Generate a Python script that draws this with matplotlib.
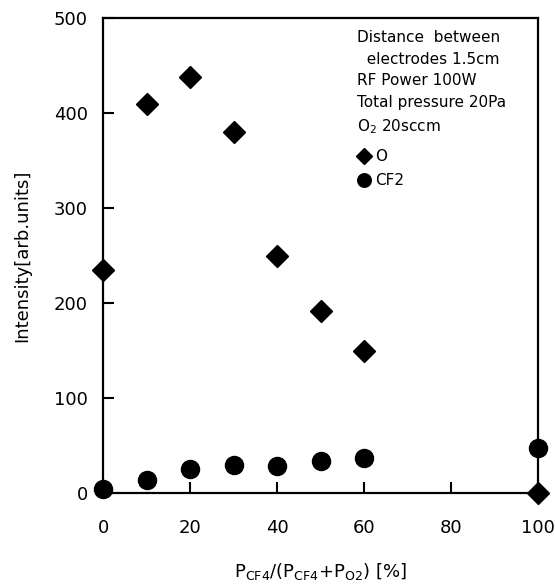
import matplotlib
matplotlib.use("Agg")
import matplotlib.pyplot as plt

plt.rcParams['font.family'] = ['DejaVu Sans']
plt.rcParams['mathtext.default'] = 'regular'

# ratio P_CF4/(P_CF4+P_O2) [%]
ratio = [0, 10, 20, 30, 40, 50, 60, 100]
# emission intensities [arb. units]
o_int = [235, 410, 438, 380, 250, 192, 150, 0]
cf2_int = [4, 14, 25, 30, 28, 34, 37, 47]

conditions = ["Distance  between", "  electrodes 1.5cm", "RF Power 100W",
              "Total pressure 20Pa", "O$_2$ 20sccm"]

fig = plt.figure(figsize=(5.55, 5.87), dpi=100)
ax = fig.add_axes([0.186, 0.160, 0.783, 0.809])

ax.plot(ratio, o_int, linestyle='none', marker='D', color='black',
        markersize=11, clip_on=False, zorder=5, label='O')
ax.plot(ratio, cf2_int, linestyle='none', marker='o', color='black',
        markersize=13, clip_on=False, zorder=5, label='CF2')

ax.set_xlim(0, 100)
ax.set_ylim(0, 500)
ax.set_xticks([0, 20, 40, 60, 80, 100])
ax.set_yticks([0, 100, 200, 300, 400, 500])
ax.tick_params(direction='in', length=8, width=1.5, labelsize=13,
               top=False, right=False)
ax.tick_params(axis='x', pad=19)
ax.tick_params(axis='y', pad=11)
for s in ax.spines.values():
    s.set_linewidth(1.6)

ax.set_xlabel(r'P$_{CF4}$/(P$_{CF4}$+P$_{O2}$) [%]', fontsize=13, labelpad=17)
ax.set_ylabel('Intensity[arb.units]', fontsize=13, labelpad=16)

ax.text(0.584, 0.975, "\n".join(conditions), transform=ax.transAxes,
        fontsize=11, va='top', ha='left', linespacing=1.55)

leg = ax.legend(loc='upper left', bbox_to_anchor=(0.572, 0.74), frameon=False,
                fontsize=11, handlelength=0.6, handletextpad=0.4, borderpad=0,
                labelspacing=0.6, markerscale=0.75)

fig.savefig('out.png', dpi=100)
